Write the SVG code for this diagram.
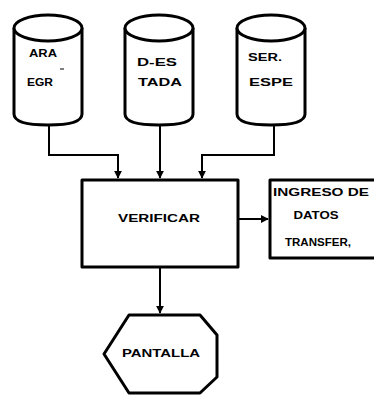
<svg xmlns="http://www.w3.org/2000/svg" width="374" height="395" viewBox="0 0 374 395">
<style>
.s{fill:#fff;stroke:#000;stroke-width:3;stroke-linejoin:round}
.c{fill:none;stroke:#000;stroke-width:2}
text{font-family:"Liberation Sans",Arial,sans-serif;font-weight:bold;font-size:11px;fill:#000;text-anchor:middle}
</style>
<defs>
<marker id="ah" viewBox="0 0 10 10" refX="9" refY="5" markerWidth="4" markerHeight="4" orient="auto">
<path d="M0,0 L10,5 L0,10 z" fill="#000"/>
</marker>
</defs>
<g id="cyl1">
<path class="s" d="M14,28 L14,114 Q14,125 48,125 Q82,125 82,114 L82,28"/>
<ellipse class="s" cx="48" cy="28" rx="34" ry="13"/>
<text x="43" y="57" textLength="28" lengthAdjust="spacingAndGlyphs">ARA</text>
<text x="40" y="86" textLength="26" lengthAdjust="spacingAndGlyphs">EGR</text>
<path d="M60,69 L64,69" stroke="#000" stroke-width="1"/>
</g>
<g id="cyl2">
<path class="s" d="M125,28 L125,114 Q125,125 159,125 Q193,125 193,114 L193,28"/>
<ellipse class="s" cx="159" cy="28" rx="34" ry="13"/>
<text x="157" y="66" textLength="40" lengthAdjust="spacingAndGlyphs">D-ES</text>
<text x="160" y="86" textLength="44" lengthAdjust="spacingAndGlyphs">TADA</text>
</g>
<g id="cyl3">
<path class="s" d="M237,28 L237,114 Q237,125 271,125 Q305,125 305,114 L305,28"/>
<ellipse class="s" cx="271" cy="28" rx="34" ry="13"/>
<text x="265" y="61" textLength="34" lengthAdjust="spacingAndGlyphs">SER.</text>
<text x="271" y="86" textLength="44" lengthAdjust="spacingAndGlyphs">ESPE</text>
</g>
<g id="connectors">
<path class="c" d="M49,125 L49,155 L118,155 L118,178" marker-end="url(#ah)"/>
<path class="c" d="M160,125 L160,178" marker-end="url(#ah)"/>
<path class="c" d="M274,125 L274,155 L202,155 L202,178" marker-end="url(#ah)"/>
<path class="c" d="M238,219 L268,219" marker-end="url(#ah)"/>
<path class="c" d="M160,267 L160,313" marker-end="url(#ah)"/>
</g>
<g id="verificar">
<rect class="s" x="82" y="180" width="156" height="87"/>
<text x="159" y="222" font-size="13" textLength="82" lengthAdjust="spacingAndGlyphs">VERIFICAR</text>
</g>
<g id="ingreso">
<rect class="s" x="270" y="180" width="110" height="78"/>
<text x="321" y="196" textLength="96" lengthAdjust="spacingAndGlyphs">INGRESO DE</text>
<text x="316" y="219" textLength="45" lengthAdjust="spacingAndGlyphs">DATOS</text>
<text x="318" y="246" textLength="66" lengthAdjust="spacingAndGlyphs">TRANSFER,</text>
</g>
<g id="pantalla">
<path class="s" d="M129,315 L200,315 L217,335 L217,377 L200,393 L129,393 L104,354 Z"/>
<text x="161" y="357" font-size="12" textLength="78" lengthAdjust="spacingAndGlyphs">PANTALLA</text>
</g>
</svg>
